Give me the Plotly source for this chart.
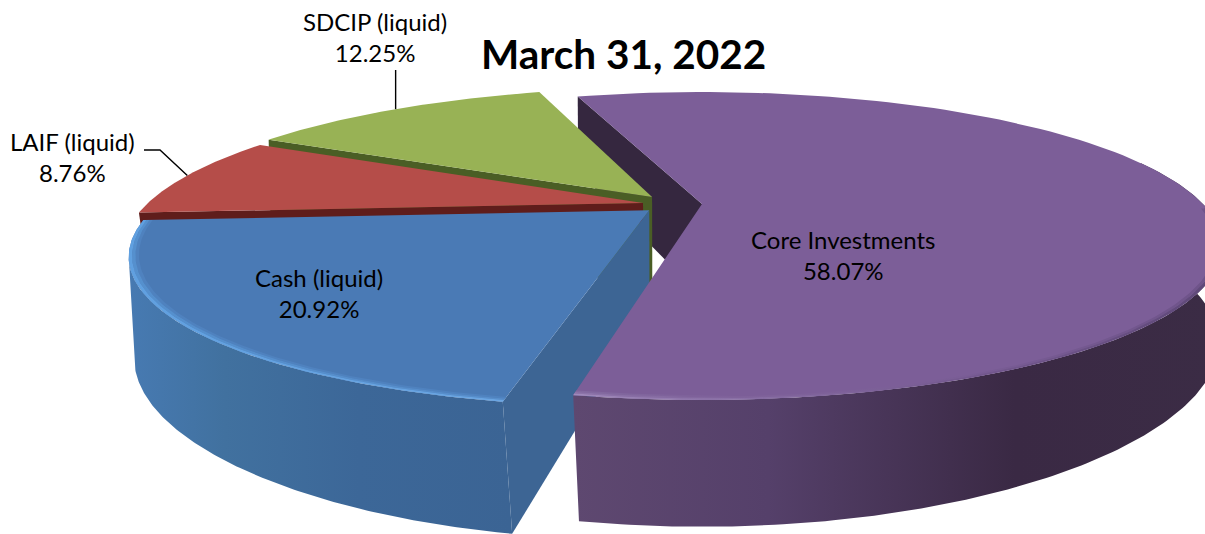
import numpy as np
import plotly.graph_objects as go

# Portfolio allocation at the reporting date
slice_names = ["Core Investments", "Cash (liquid)", "LAIF (liquid)", "SDCIP (liquid)"]
slice_values = [58.07, 20.92, 8.76, 12.25]
chart_title = "March 31, 2022"

# Appearance of each slice
top_colors = ["#7C5E98", "#4A7AB5", "#B54D49", "#98B255"]
edge_colors = ["#35273F", "#3D6594", "#5F1D1B", "#4A5E25"]
outer_wall_scales = [
    [[0, "#5E4870"], [0.3, "#55406A"], [0.68, "#3A2944"], [1, "#3B2C45"]],
    [[0, "#477AB2"], [0.25, "#41719F"], [0.6, "#3C6798"], [1, "#3B6494"]],
    [[0, "#5F1D1B"], [1, "#5F1D1B"]],
    [[0, "#4A5E25"], [1, "#4A5E25"]],
]
# Rim highlight bands, listed from the inside of the rim to its edge
bevel_bands = [
    [
        [[0, "#836AA0"], [0.25, "#7C5E98"], [1, "#7C5E98"]],
        [[0, "#8D75AA"], [0.25, "#80639B"], [0.6, "#7A5D96"], [1, "#6E5389"]],
        [[0, "#A08ABB"], [0.25, "#8A70A6"], [0.6, "#74588F"], [1, "#5E4878"]],
    ],
    [
        [[0, "#4F82BF"], [1, "#4F82BF"]],
        [[0, "#5590CE"], [1, "#578DCA"]],
        [[0, "#60A0E0"], [1, "#6AA5E2"]],
    ],
    [],
    [],
]

# Offset of each exploded slice in the plane of the disc, its radius and wall height
explode_u = [0.0, -0.104, -0.118, -0.101]
explode_v = [0.0, 0.044, -0.007, -0.050]
slice_radius = [1.0, 0.98, 0.99, 1.0]
wall_height = [1.02, 1.06, 0.22, 1.0]

START_ANGLE = 341.8
# Sweep, from the start of the slice, before its outer wall comes into view
outer_wall_skip = [90, 0, 0, 0]
bevel_skip = [110, 0, 0, 0]

# Perspective of the disc on the page
ORIGIN_X, ORIGIN_Y = 702.0, 204.0
SCALE_U, SCALE_V = 501.0, 142.5
DEPTH_K = 0.2727
WALL_DROP = 92.0
WALL_DEPTH = 0.005
FRONT_PULL = 0.04


def project(u, v, drop=0.0):
    """Page position of a disc point; drop > 0 gives a point on the lower face."""
    u, v = np.asarray(u, float), np.asarray(v, float)
    w = 1 - DEPTH_K * v + (WALL_DEPTH if drop else 0.0)
    x = ORIGIN_X + SCALE_U * u / w
    y = ORIGIN_Y + (SCALE_V * v + WALL_DROP * drop) / w
    if drop:
        x = ORIGIN_X + (x - ORIGIN_X) * (1 - FRONT_PULL * np.maximum(v, 0) ** 2)
    return x, y


def disc(theta_deg, radius, i):
    t = np.radians(theta_deg)
    r = radius * slice_radius[i]
    return explode_u[i] + r * np.sin(t), explode_v[i] - r * np.cos(t)


def polygon(xs, ys, color=None, scale=None):
    kw = dict(
        x=np.append(xs, xs[0]), y=np.append(ys, ys[0]),
        mode="lines", fill="toself", line=dict(width=0),
        hoverinfo="skip", showlegend=False,
    )
    if scale is not None:
        kw["fillgradient"] = dict(type="horizontal", colorscale=scale)
    else:
        kw["fillcolor"] = color
    return go.Scatter(**kw)


def cut_wall(i, theta, is_start):
    """Flat cut face of a slice, returned only if it faces the viewer."""
    p, q = disc(0, 0, i), disc(theta, 1, i)
    tx, ty = project([p[0], q[0]], [p[1], q[1]])
    bx, by = project([p[0], q[0]], [p[1], q[1]], drop=wall_height[i])
    xs = np.array([tx[0], tx[1], bx[1], bx[0]])
    ys = np.array([ty[0], ty[1], by[1], by[0]])
    cross = (xs[1] - xs[0]) * (ys[2] - ys[1]) - (ys[1] - ys[0]) * (xs[2] - xs[1])
    if (cross < 0) == is_start:
        return polygon(xs, ys, color=edge_colors[i])
    return None


def outer_wall(i, t0, t1):
    th = np.linspace(t0 + outer_wall_skip[i], t1, 160)
    u, v = disc(th, 1, i)
    tx, _ = project(u, v)
    # Past the left-hand silhouette the wall turns away and is not drawn
    keep = int(np.argmin(tx)) + 1
    u, v = u[:keep], v[:keep]
    tx, ty = project(u, v)
    bx, by = project(u, v, drop=wall_height[i])
    return polygon(np.r_[tx, bx[::-1]], np.r_[ty, by[::-1]], scale=outer_wall_scales[i])


def top_face(i, t0, t1):
    th = np.linspace(t0, t1, 120)
    u, v = disc(th, 1, i)
    x, y = project(np.r_[explode_u[i], u], np.r_[explode_v[i], v])
    return polygon(x, y, color=top_colors[i])


def bevel(i, t0, t1, r_in, r_out, scale):
    th = np.linspace(t0 + bevel_skip[i], t1, 120)
    ui, vi = disc(th, r_in, i)
    uo, vo = disc(th, r_out, i)
    xi, yi = project(ui, vi)
    xo, yo = project(uo, vo)
    return polygon(np.r_[xo, xi[::-1]], np.r_[yo, yi[::-1]], scale=scale)


def bevels(i):
    bands = bevel_bands[i]
    edges = np.linspace(0.982, 1.0, len(bands) + 1)
    return [bevel(i, starts[i], ends[i], edges[k], edges[k + 1], bands[k]) for k in range(len(bands))]


spans = np.array(slice_values) / sum(slice_values) * 360
starts = START_ANGLE + np.r_[0, np.cumsum(spans)[:-1]]
ends = starts + spans

traces = []
# The cut face of the largest slice sits behind everything else
traces.append(cut_wall(0, starts[0], True))

for i in [3, 2, 1]:
    traces.append(outer_wall(i, starts[i], ends[i]))
    traces.append(cut_wall(i, ends[i], False))
    traces.append(cut_wall(i, starts[i], True))
    traces.append(top_face(i, starts[i], ends[i]))
    traces.extend(bevels(i))

traces.append(outer_wall(0, starts[0], ends[0]))
traces.append(top_face(0, starts[0], ends[0]))
traces.extend(bevels(0))


def arc_mid(i):
    return project(*disc((starts[i] + ends[i]) / 2, 1, i))


# Leader lines run from the labels to the middle of the slice's rim
laif_x, laif_y = arc_mid(2)
sdcip_x, sdcip_y = arc_mid(3)
traces.append(go.Scatter(x=[144, 160, float(laif_x)], y=[150, 150, float(laif_y)], mode="lines",
                         line=dict(color="#000000", width=1.4), hoverinfo="skip", showlegend=False))
traces.append(go.Scatter(x=[float(sdcip_x), float(sdcip_x)], y=[70, float(sdcip_y)], mode="lines",
                         line=dict(color="#000000", width=1.4), hoverinfo="skip", showlegend=False))

fig = go.Figure([t for t in traces if t is not None])


def label(i, x, y):
    return dict(x=x, y=y, xref="x", yref="y", showarrow=False,
                text=f"{slice_names[i]}<br>{slice_values[i]:.2f}%",
                font=dict(family="Lato", size=24, color="#000000"), align="center")


annotations = [
    label(0, 843, 255),
    label(1, 319, 293),
    label(2, 72, 157),
    label(3, 375, 37),
    dict(x=623, y=53, xref="x", yref="y", showarrow=False, text=f"<b>{chart_title}</b>",
         font=dict(family="Lato", size=40.5, color="#000000")),
]

fig.update_layout(
    width=1205, height=534, margin=dict(l=0, r=0, t=0, b=0),
    paper_bgcolor="#FFFFFF", plot_bgcolor="#FFFFFF",
    xaxis=dict(range=[0, 1205], visible=False, fixedrange=True),
    yaxis=dict(range=[534, 0], visible=False, fixedrange=True),
    annotations=annotations, showlegend=False,
)

fig.write_html("out.html")
